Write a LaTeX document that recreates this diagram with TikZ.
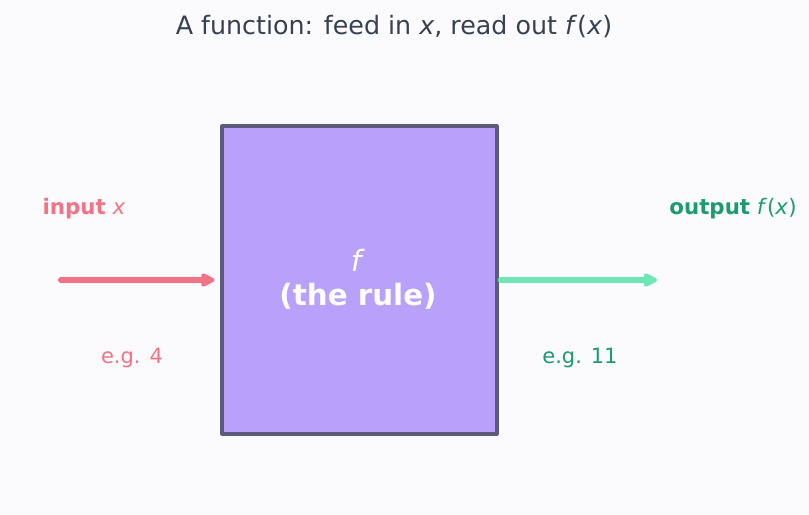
\documentclass[tikz,border=0pt]{standalone}
\usepackage{fontspec}
\setmainfont{DejaVu Sans}
\usetikzlibrary{arrows.meta}
\definecolor{bgpage}{HTML}{FBFBFE}
\definecolor{titlegray}{HTML}{374151}
\definecolor{rulefill}{HTML}{B8A0FB}
\definecolor{ruleedge}{HTML}{5A5B7A}
\definecolor{inpink}{HTML}{F27386}
\definecolor{outgreen}{HTML}{1C9B6E}
\definecolor{outarrow}{HTML}{6EE7B7}
\begin{document}
\begin{tikzpicture}[x=0.75pt,y=-0.75pt,line cap=round,line join=round,
                    every node/.style={font=\fontsize{16pt}{19pt}\selectfont,inner sep=0pt},
                    flow/.style={line width=3.8pt,-{Triangle[length=12pt,width=11pt,round]}}]
% ---- canvas (px, origin top left, y down) ----
\fill[bgpage] (0,0) rectangle (809,514);
% ---- title ----
\node[titlegray,font=\fontsize{19pt}{22pt}\selectfont] (title) at (394,27)
  {A function: feed in \textit{x}, read out \textit{f}(\textit{x})};
% ---- the box (275 x 308 px between line centres) ----
\node[draw=ruleedge,fill=rulefill,line width=2.3pt,outer sep=0pt,minimum width=206.25pt,
      minimum height=231pt,anchor=center] (rule) at (359.5,280) {};
\node[white,align=center,font=\fontsize{22pt}{25.5pt}\selectfont] (rulelbl) at (358,279)
  {\textit{f}\\\textbf{(the rule)}};
% ---- input side ----
\coordinate (inL) at (60.5,280);
\draw[flow,inpink] (inL) -- ([xshift=-5.6pt]rule.west);
\node[inpink] (inlbl) at (84,209) {\textbf{input} \textit{x}};
\node[inpink,font=\fontsize{15.75pt}{18pt}\selectfont] (inex) at (132,358) {e.g. 4};
% ---- output side ----
\coordinate (outR) at (657,280);
\draw[flow,outarrow] ([xshift=2.5pt]rule.east) -- (outR);
\node[outgreen] (outlbl) at (733,209) {\textbf{output} \textit{f}(\textit{x})};
\node[outgreen,font=\fontsize{15.75pt}{18pt}\selectfont] (outex) at (580,358) {e.g. 11};
\pgfresetboundingbox
\path[use as bounding box] (0,0) rectangle (809,514);
\end{tikzpicture}
\end{document}
